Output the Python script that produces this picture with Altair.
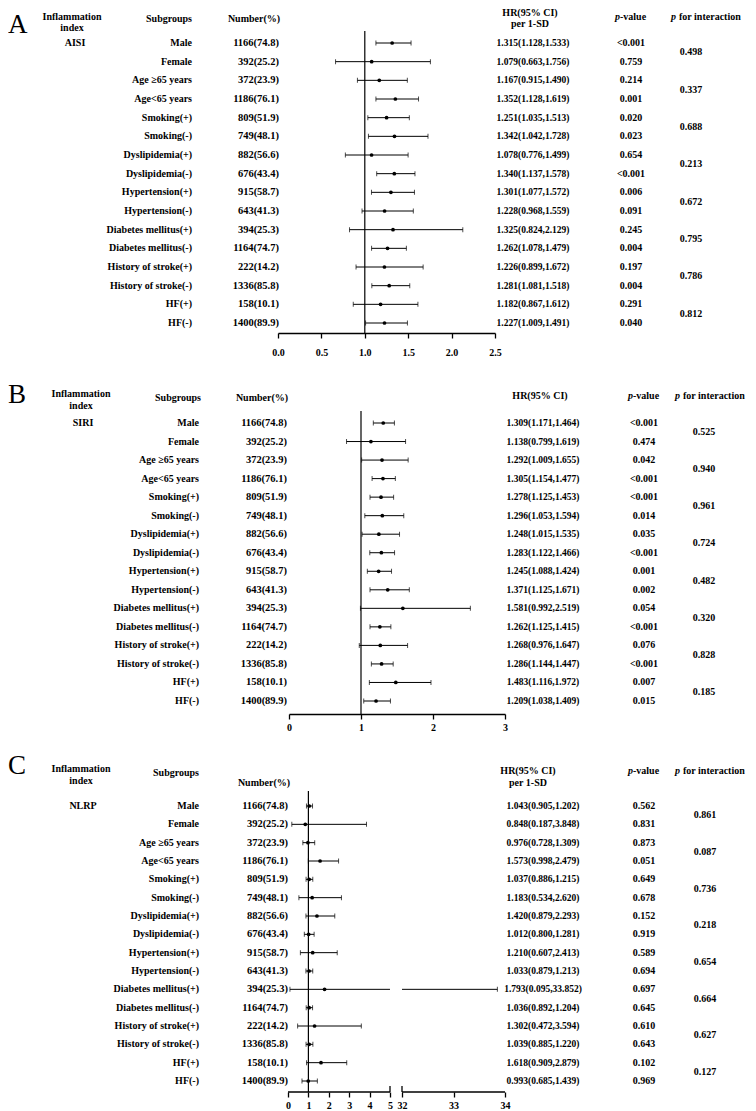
import altair as alt
import pandas as pd

FONT = "Liberation Serif"

# ---------------- data ----------------
subgroups = ["Male", "Female", "Age \u226565 years", "Age<65 years", "Smoking(+)", "Smoking(-)",
             "Dyslipidemia(+)", "Dyslipidemia(-)", "Hypertension(+)", "Hypertension(-)",
             "Diabetes mellitus(+)", "Diabetes mellitus(-)", "History of stroke(+)",
             "History of stroke(-)", "HF(+)", "HF(-)"]
numbers = ["1166(74.8)", "392(25.2)", "372(23.9)", "1186(76.1)", "809(51.9)", "749(48.1)",
           "882(56.6)", "676(43.4)", "915(58.7)", "643(41.3)", "394(25.3)", "1164(74.7)",
           "222(14.2)", "1336(85.8)", "158(10.1)", "1400(89.9)"]

aisi_hr = [1.315, 1.079, 1.167, 1.352, 1.251, 1.342, 1.078, 1.340, 1.301, 1.228, 1.325, 1.262, 1.226, 1.281, 1.182, 1.227]
aisi_lo = [1.128, 0.663, 0.915, 1.128, 1.035, 1.042, 0.776, 1.137, 1.077, 0.968, 0.824, 1.078, 0.899, 1.081, 0.867, 1.009]
aisi_hi = [1.533, 1.756, 1.490, 1.619, 1.513, 1.728, 1.499, 1.578, 1.572, 1.559, 2.129, 1.479, 1.672, 1.518, 1.612, 1.491]
aisi_p = ["<0.001", "0.759", "0.214", "0.001", "0.020", "0.023", "0.654", "<0.001",
          "0.006", "0.091", "0.245", "0.004", "0.197", "0.004", "0.291", "0.040"]
aisi_pint = ["0.498", "0.337", "0.688", "0.213", "0.672", "0.795", "0.786", "0.812"]

siri_hr = [1.309, 1.138, 1.292, 1.305, 1.278, 1.296, 1.248, 1.283, 1.245, 1.371, 1.581, 1.262, 1.268, 1.286, 1.483, 1.209]
siri_lo = [1.171, 0.799, 1.009, 1.154, 1.125, 1.053, 1.015, 1.122, 1.088, 1.125, 0.992, 1.125, 0.976, 1.144, 1.116, 1.038]
siri_hi = [1.464, 1.619, 1.655, 1.477, 1.453, 1.594, 1.535, 1.466, 1.424, 1.671, 2.519, 1.415, 1.647, 1.447, 1.972, 1.409]
siri_p = ["<0.001", "0.474", "0.042", "<0.001", "<0.001", "0.014", "0.035", "<0.001",
          "0.001", "0.002", "0.054", "<0.001", "0.076", "<0.001", "0.007", "0.015"]
siri_pint = ["0.525", "0.940", "0.961", "0.724", "0.482", "0.320", "0.828", "0.185"]

nlrp_hr = [1.043, 0.848, 0.976, 1.573, 1.037, 1.183, 1.420, 1.012, 1.210, 1.033, 1.793, 1.036, 1.302, 1.039, 1.618, 0.993]
nlrp_lo = [0.905, 0.187, 0.728, 0.998, 0.886, 0.534, 0.879, 0.800, 0.607, 0.879, 0.095, 0.892, 0.472, 0.885, 0.909, 0.685]
nlrp_hi = [1.202, 3.848, 1.309, 2.479, 1.215, 2.620, 2.293, 1.281, 2.413, 1.213, 33.852, 1.204, 3.594, 1.220, 2.879, 1.439]
nlrp_p = ["0.562", "0.831", "0.873", "0.051", "0.649", "0.678", "0.152", "0.919",
          "0.589", "0.694", "0.697", "0.645", "0.610", "0.643", "0.102", "0.969"]
nlrp_pint = ["0.861", "0.087", "0.736", "0.218", "0.654", "0.664", "0.627", "0.127"]

aisi_ticks = [0, 0.5, 1.0, 1.5, 2.0, 2.5]
siri_ticks = [0, 1, 2, 3]
nlrp_ticks = [0, 1, 2, 3, 4, 5, 32, 33, 34]
nlrp_axis_segments_start = [0, 32]
nlrp_axis_segments_end = [5, 34]
ref_value = [1]

header_index = ["Inflammation", "index"]
header_sub = "Subgroups"
header_num = "Number(%)"
header_hr_sd = ["HR(95% CI)", "per 1-SD"]
header_hr = ["HR(95% CI)"]

# ---------------- layout (page pixels) ----------------
PAGE_X0 = 8
W = 740

LA = dict(top=8, axis=330, row0=40, row15=320, ref_top=28, letter_base=30, lp=9,
          idx_x=72, idx_y=[14, 25], name_x=75, sub_hx=169, sub_hy=16, sub_r=192,
          num_hx=254, num_hy=16, num_r=279, hr_hx=530, hr_hy=[10, 21], hr_c=533,
          p_hx=631, p_hy=14, p_c=631, pi_hx=707, pi_hy=14, pi_c=691,
          xdom=[0, 2.5], xr=[278, 495])
LB = dict(top=366, axis=713, row0=422, row15=700, ref_top=410, letter_base=402, lp=3,
          idx_x=81, idx_y=[393, 405], name_x=83, sub_hx=178, sub_hy=397, sub_r=199,
          num_hx=262, num_hy=397, num_r=287, hr_hx=540, hr_hy=[395], hr_c=543,
          p_hx=644, p_hy=395, p_c=644, pi_hx=711, pi_hy=395, pi_c=704,
          xdom=[0, 3], xr=[289, 505])
LC = dict(top=741, axis=1091, row0=805, row15=1080, ref_top=790, letter_base=773, lp=3,
          idx_x=81, idx_y=[768, 780], name_x=83, sub_hx=176, sub_hy=772, sub_r=199,
          num_hx=264, num_hy=782, num_r=288, hr_hx=528, hr_hy=[770, 782], hr_c=543,
          p_hx=644, p_hy=770, p_c=644, pi_hx=711, pi_hy=770, pi_c=705,
          xdom=[0, 5, 32, 34], xr=[288, 390, 402, 505])

AXIS_KW = dict(title=None, grid=False, orient="bottom", domainColor="black", domainWidth=1.3,
               tickColor="black", tickWidth=1.3, tickSize=5, labelFont=FONT,
               labelFontWeight="bold", labelFontSize=10, labelColor="black",
               labelFlush=False, labelOverlap=False)

ONE = pd.DataFrame({"k": [0]})


def txt(s, x, y, size=10, align="center", italic=False, weight="bold", baseline="middle"):
    return alt.Chart(ONE).mark_text(
        font=FONT, fontSize=size, fontWeight=weight, fontStyle="italic" if italic else "normal",
        align=align, baseline=baseline, color="black"
    ).encode(x=alt.value(x), y=alt.value(y), text=alt.value(s))


def build_panel(L, letter, index_name, hr, lo, hi, pvals, pints, ticks, fmt, hr_lines):
    top = L["top"]
    H = L["axis"] - top
    Y = lambda py: py - top
    X = lambda px: px - PAGE_X0
    split = len(L["xdom"]) > 2

    df = pd.DataFrame({"row": list(range(16)), "subgroup": subgroups, "number": numbers,
                       "hr": hr, "lo": lo, "hi": hi, "p": pvals})
    df["hr_text"] = [f"{a:.3f}({b:.3f},{c:.3f})" for a, b, c in zip(hr, lo, hi)]
    lim = L["xdom"][1]
    df["hi_l"] = df["hi"].clip(upper=lim)

    ys = alt.Scale(domain=[0, 15], range=[Y(L["row0"]), Y(L["row15"])], nice=False, zero=False)
    y_enc = alt.Y("row:Q", scale=ys, axis=None)
    xs = alt.Scale(domain=L["xdom"], range=[X(v) for v in L["xr"]], nice=False, zero=False)
    ax = alt.Axis(values=ticks, format=fmt, domain=not split, labelPadding=L["lp"], **AXIS_KW)

    def xe(field):
        return alt.X(field, type="quantitative", scale=xs, axis=ax)

    layers = []
    # reference line
    layers.append(alt.Chart(pd.DataFrame({"ref": ref_value})).mark_rule(color="black", strokeWidth=1.2).encode(
        x=xe("ref"), y=alt.value(Y(L["ref_top"])), y2=alt.value(H)))
    base = alt.Chart(df)
    # CI lines
    layers.append(base.mark_rule(color="black", strokeWidth=1).encode(
        x=xe("lo"), x2="hi_l:Q", y=y_enc))
    # caps
    layers.append(base.mark_tick(orient="vertical", size=5, thickness=1, color="black").encode(
        x=xe("lo"), y=y_enc))
    layers.append(base.mark_tick(orient="vertical", size=5, thickness=1, color="black").encode(
        x=xe("hi"), y=y_enc))
    # points
    layers.append(base.mark_circle(size=14, color="black", opacity=1).encode(
        x=xe("hr"), y=y_enc))

    if split:
        start2 = L["xdom"][2]
        right = base.transform_filter(f"datum.hi >= {start2}").transform_calculate(start=f"{start2}")
        layers.append(right.mark_rule(color="black", strokeWidth=1).encode(
            x=xe("start"), x2="hi:Q", y=y_enc))
        # broken axis line
        seg = pd.DataFrame({"s": nlrp_axis_segments_start, "e": nlrp_axis_segments_end})
        layers.append(alt.Chart(seg).mark_rule(color="black", strokeWidth=1.3).encode(
            x=xe("s"), x2="e:Q", y=alt.value(H)))
        # break marks
        bk = pd.DataFrame({"b": [lim, start2]})
        layers.append(alt.Chart(bk).mark_rule(color="black", strokeWidth=1.3).encode(
            x=xe("b"), y=alt.value(H - 6), y2=alt.value(H)))

    tkw = dict(font=FONT, fontWeight="bold", baseline="middle", color="black")
    layers.append(base.mark_text(align="right", fontSize=10, **tkw).encode(
        x=alt.value(X(L["sub_r"])), y=y_enc, text="subgroup:N"))
    layers.append(base.mark_text(align="right", fontSize=10.5, **tkw).encode(
        x=alt.value(X(L["num_r"])), y=y_enc, text="number:N"))
    layers.append(base.mark_text(align="center", fontSize=9.5, **tkw).encode(
        x=alt.value(X(L["hr_c"])), y=y_enc, text="hr_text:N"))
    layers.append(base.mark_text(align="center", fontSize=10, **tkw).encode(
        x=alt.value(X(L["p_c"])), y=y_enc, text="p:N"))
    pint_df = pd.DataFrame({"row": [2 * k + 0.5 for k in range(len(pints))], "v": pints})
    layers.append(alt.Chart(pint_df).mark_text(align="center", fontSize=10, **tkw).encode(
        x=alt.value(X(L["pi_c"])), y=y_enc, text="v:N"))
    name_df = pd.DataFrame({"row": [0], "name": [index_name]})
    layers.append(alt.Chart(name_df).mark_text(align="center", fontSize=10, **tkw).encode(
        x=alt.value(X(L["name_x"])), y=y_enc, text="name:N"))

    # headers
    layers.append(txt(letter, 0, Y(L["letter_base"]), size=27, align="left", weight="normal",
                      baseline="alphabetic"))
    for s, yy in zip(header_index, L["idx_y"]):
        layers.append(txt(s, X(L["idx_x"]), Y(yy)))
    layers.append(txt(header_sub, X(L["sub_hx"]), Y(L["sub_hy"])))
    layers.append(txt(header_num, X(L["num_hx"]), Y(L["num_hy"])))
    for s, yy in zip(hr_lines, L["hr_hy"]):
        layers.append(txt(s, X(L["hr_hx"]), Y(yy)))
    pc = X(L["p_hx"])
    layers.append(txt("p", pc - 11, Y(L["p_hy"]), align="right", italic=True))
    layers.append(txt("-value", pc - 11, Y(L["p_hy"]), align="left"))
    ic = X(L["pi_hx"])
    layers.append(txt("p", ic - 31, Y(L["pi_hy"]), align="right", italic=True))
    layers.append(txt("for interaction", ic - 28, Y(L["pi_hy"]), align="left"))

    return alt.layer(*layers).properties(width=W, height=H)


pA = build_panel(LA, "A", "AISI", aisi_hr, aisi_lo, aisi_hi, aisi_p, aisi_pint, aisi_ticks, ".1f", header_hr_sd)
pB = build_panel(LB, "B", "SIRI", siri_hr, siri_lo, siri_hi, siri_p, siri_pint, siri_ticks, "d", header_hr)
pC = build_panel(LC, "C", "NLRP", nlrp_hr, nlrp_lo, nlrp_hi, nlrp_p, nlrp_pint, nlrp_ticks, "d", header_hr_sd)

chart = alt.vconcat(pA, pB, pC, spacing=10).properties(padding=0, background="white").configure_view(stroke=None)

chart.save("out.html", embed_options={"renderer": "svg", "actions": False})
